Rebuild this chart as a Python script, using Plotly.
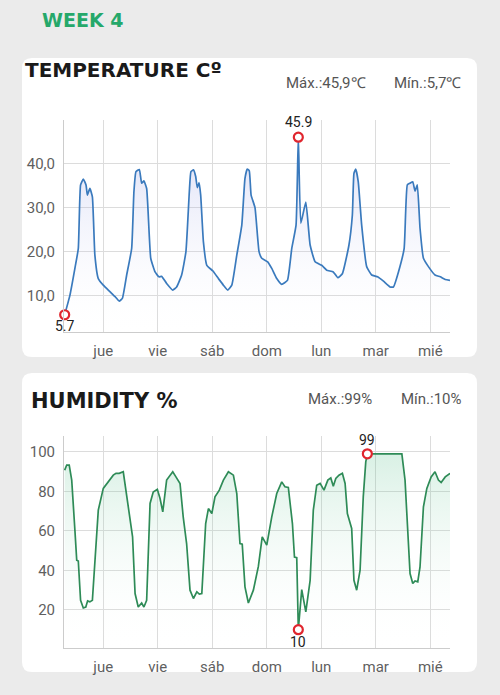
import numpy as np
import pandas as pd
import plotly.graph_objects as go

# ---------------- data ----------------
start_time = pd.Timestamp("2024-05-01 07:00")
day_ticks = ["2024-05-02", "2024-05-03", "2024-05-04", "2024-05-05",
             "2024-05-06", "2024-05-07", "2024-05-08"]
day_labels = ["jue", "vie", "sáb", "dom", "lun", "mar", "mié"]

temp_hours = [0, 2.3, 4.5, 6, 7, 8.2, 9.4, 10, 11.1, 12.2, 13.3, 14.8, 17, 20, 22.2, 24, 25.4,
              27.3, 29.5, 30.5, 31.4, 32.9, 33.9, 34.9, 36.1, 37.9, 39.8, 41.5, 42.7, 44.9, 47.6,
              49.3, 51.5, 53.4, 54.9, 55.6, 56.7, 57.7, 58.4, 59.2, 59.9, 61.1, 62.6, 65.3, 67.7,
              69.9, 71.8, 73.6, 75.8, 78, 79.4, 80.4, 81.3, 82.1, 83.8, 85.6, 86.8, 89.4, 91.2,
              93.4, 95.6, 98.1, 100, 101.9, 102.9, 104, 106.2, 108.1, 110.3, 113.2, 115.4, 118.3,
              120.3, 122.3, 125.2, 126.7, 127.4, 128.2, 129.3, 130.8, 133, 135.2, 137.8, 140.4,
              143.3, 144.8, 147, 149.5, 150.9, 152.1, 153.3, 154.3, 155.3, 156.5, 158, 160.2,
              163.1, 165.4, 167.6, 169.7]
temp_values = [5.7, 10.1, 16.2, 20.7, 35.1, 36.4, 35.1, 32.8, 34.3, 32.4, 19.2, 13.9, 12.4, 10.9,
               9.8, 8.8, 9.4, 14.7, 20.7, 33.6, 38.1, 38.6, 35.5, 36.0, 34.3, 18.5, 15.4, 14.3,
               14.4, 12.8, 11.3, 12.0, 14.7, 20.0, 33.6, 38.1, 38.5, 37.0, 34.5, 35.6, 32.8, 22.2,
               16.9, 15.6, 13.9, 12.4, 11.3, 12.4, 19.2, 26.0, 36.6, 38.7, 38.3, 32.8, 30.0, 20.0,
               18.5, 17.7, 16.2, 13.9, 12.6, 13.5, 20.7, 26.0, 45.9, 26.4, 31.2, 21.5, 17.7, 16.9,
               15.8, 15.4, 14.1, 15.0, 21.5, 28.3, 37.7, 38.7, 35.8, 26.0, 16.6, 14.7, 14.3, 13.3,
               12.0, 12.0, 15.4, 20.7, 35.1, 35.5, 35.8, 33.7, 35.1, 25.3, 18.5, 16.6, 14.7, 14.3,
               13.7, 13.5]

hum_hours = [0, 0.9, 2, 3.1, 4.5, 5.3, 6, 7, 8.2, 9.3, 10.1, 11.1, 12.2, 13.3, 14.8, 17, 19.2,
             21.4, 22.6, 24, 25.8, 28, 29.9, 31, 32.4, 33.9, 34.9, 36.1, 37.6, 39, 40.8, 42, 43.2,
             44.9, 47.6, 49, 50.8, 52.2, 53.7, 55.2, 56.7, 58.2, 59.3, 60.4, 62.1, 63.3, 64.8,
             66.2, 68.1, 69.9, 72.1, 74.3, 75.8, 77.2, 78.2, 79.4, 80.9, 83.1, 85.3, 87, 89, 91.2,
             93.4, 95.6, 97, 98.5, 100.3, 101.2, 102.2, 102.9, 104.4, 106.2, 108.1, 109.5, 111,
             112.5, 114.2, 115.9, 117.2, 118.3, 119.4, 120.8, 122.3, 123.5, 124.5, 126.4, 127.4,
             128.6, 130.1, 131.5, 132.6, 133.3, 148.5, 149.9, 151.1, 152.1, 153.3, 154.3, 155.5,
             156.5, 158, 159.5, 161.4, 163.1, 164.6, 165.8, 167.6, 169.7]
hum_values = [90.7, 93.3, 93.3, 85.7, 60.4, 45.2, 44.8, 24.9, 21.0, 21.5, 24.6, 24.1, 24.9, 46.8,
              70.5, 81.5, 84.8, 88.2, 89.1, 89.1, 89.9, 72.2, 57.0, 28.3, 21.5, 23.5, 21.5, 24.9,
              73.9, 79.7, 81.0, 76.4, 69.6, 85.7, 89.9, 87.3, 84.0, 67.1, 53.6, 30.0, 25.8, 29.1,
              28.0, 28.3, 63.7, 71.3, 68.8, 77.2, 80.6, 85.7, 89.9, 88.2, 78.9, 53.6, 53.3, 31.7,
              23.5, 30.0, 42.0, 57.0, 52.8, 67.1, 78.9, 84.8, 82.3, 82.0, 63.7, 46.8, 46.5, 10.0,
              30.3, 19.0, 35.0, 70.5, 83.1, 84.0, 80.6, 85.7, 86.8, 82.6, 86.5, 88.2, 89.1, 84.0,
              68.8, 61.2, 35.0, 30.0, 40.1, 77.2, 94.9, 99.0, 99.0, 85.7, 57.0, 38.4, 33.4, 34.7,
              34.2, 41.8, 72.2, 81.5, 87.3, 89.9, 85.7, 84.5, 87.3, 89.1]

temp_ticks = [10, 20, 30, 40]
hum_ticks = [20, 40, 60, 80, 100]

# ---------------- helpers ----------------
W, H = 500, 695
def px(x):
    return x / W
def py(y):
    return 1 - y / H

def rrect(x0, y0, x1, y1, r):
    pts = [
        f"M {px(x0 + r)},{py(y0)}",
        f"L {px(x1 - r)},{py(y0)}",
        f"Q {px(x1)},{py(y0)} {px(x1)},{py(y0 + r)}",
        f"L {px(x1)},{py(y1 - r)}",
        f"Q {px(x1)},{py(y1)} {px(x1 - r)},{py(y1)}",
        f"L {px(x0 + r)},{py(y1)}",
        f"Q {px(x0)},{py(y1)} {px(x0)},{py(y1 - r)}",
        f"L {px(x0)},{py(y0 + r)}",
        f"Q {px(x0)},{py(y0)} {px(x0 + r)},{py(y0)}",
        "Z",
    ]
    return " ".join(pts)

def comma(v, d=1):
    return f"{v:.{d}f}".replace(".", ",")

t_x = [start_time + pd.Timedelta(hours=h) for h in temp_hours]
h_x = [start_time + pd.Timedelta(hours=h) for h in hum_hours]
x_range = [start_time - pd.Timedelta(hours=0.3), start_time + pd.Timedelta(hours=169.7)]

tv = np.array(temp_values)
hv = np.array(hum_values)
t_imax, t_imin = int(np.argmax(tv)), int(np.argmin(tv))
h_imax, h_imin = int(np.argmax(hv)), int(np.argmin(hv))

TEMP_LINE = "#3a7abd"
HUM_LINE = "#2e8b57"
RED = "#e0262e"
TICK_FONT = dict(family="Roboto, Noto Sans, sans-serif", size=15, color="#5f5f5f")
HDR_FONT = dict(family="Roboto, sans-serif", size=15, color="#555555")
LBL_FONT = dict(family="Roboto, sans-serif", size=14, color="#222222")

fig = go.Figure()

fig.add_trace(go.Scatter(
    x=t_x, y=temp_values, mode="lines", xaxis="x", yaxis="y",
    line=dict(color=TEMP_LINE, width=1.7, shape="spline", smoothing=0.4),
    fill="tozeroy",
    fillgradient=dict(type="vertical", start=0, stop=46,
                      colorscale=[[0, "rgba(255,255,255,0)"], [1, "rgba(105,115,215,0.24)"]]),
    hoverinfo="skip", showlegend=False,
))
fig.add_trace(go.Scatter(
    x=[t_x[t_imax], t_x[t_imin]], y=[tv[t_imax], tv[t_imin]], mode="markers",
    xaxis="x", yaxis="y",
    marker=dict(size=9, color="white", line=dict(color=RED, width=2.2)),
    hoverinfo="skip", showlegend=False, cliponaxis=False,
))
fig.add_trace(go.Scatter(
    x=h_x, y=hum_values, mode="lines", xaxis="x2", yaxis="y2",
    line=dict(color=HUM_LINE, width=1.7),
    fill="tozeroy",
    fillgradient=dict(type="vertical", start=0, stop=100,
                      colorscale=[[0, "rgba(255,255,255,0)"], [1, "rgba(60,180,120,0.2)"]]),
    hoverinfo="skip", showlegend=False,
))
fig.add_trace(go.Scatter(
    x=[h_x[h_imax], h_x[h_imin]], y=[hv[h_imax], hv[h_imin]], mode="markers",
    xaxis="x2", yaxis="y2",
    marker=dict(size=9, color="white", line=dict(color=RED, width=2.2)),
    hoverinfo="skip", showlegend=False, cliponaxis=False,
))

xcommon = dict(
    type="date", range=x_range, domain=[px(64), px(450)],
    tickvals=day_ticks, ticktext=day_labels,
    showgrid=True, gridcolor="#dcdcdc", gridwidth=1,
    showline=True, linecolor="#cccccc", linewidth=1,
    ticks="", tickfont=TICK_FONT, ticklabelstandoff=5, zeroline=False,
)
ycommon = dict(
    showgrid=True, gridcolor="#dcdcdc", gridwidth=1,
    showline=True, linecolor="#cccccc", linewidth=1,
    ticks="", tickfont=TICK_FONT, ticklabelstandoff=5, zeroline=False,
)

annotations = [
    dict(text="WEEK 4", x=px(40), y=py(20), xref="paper", yref="paper",
         xanchor="left", yanchor="middle", showarrow=False,
         font=dict(family="DejaVu Sans", size=19, color="#25a86a", weight="bold")),
    dict(text="TEMPERATURE Cº", x=px(23), y=py(70), xref="paper", yref="paper",
         xanchor="left", yanchor="middle", showarrow=False,
         font=dict(family="DejaVu Sans", size=20, color="#1a1a1a", weight="bold")),
    dict(text="HUMIDITY %", x=px(29), y=py(401), xref="paper", yref="paper",
         xanchor="left", yanchor="middle", showarrow=False,
         font=dict(family="DejaVu Sans", size=21, color="#1a1a1a", weight="bold")),
    dict(text=f"Máx.:{comma(tv.max())}℃", x=px(368), y=py(83), xref="paper", yref="paper",
         xanchor="right", yanchor="middle", showarrow=False, font=HDR_FONT),
    dict(text=f"Mín.:{comma(tv.min())}℃", x=px(464), y=py(83), xref="paper", yref="paper",
         xanchor="right", yanchor="middle", showarrow=False, font=HDR_FONT),
    dict(text=f"Máx.:{hv.max():.0f}%", x=px(374), y=py(399), xref="paper", yref="paper",
         xanchor="right", yanchor="middle", showarrow=False, font=HDR_FONT),
    dict(text=f"Mín.:{hv.min():.0f}%", x=px(464), y=py(399), xref="paper", yref="paper",
         xanchor="right", yanchor="middle", showarrow=False, font=HDR_FONT),
    dict(text=f"{tv[t_imax]:.1f}", x=t_x[t_imax], y=tv[t_imax], xref="x", yref="y",
         yshift=15, showarrow=False, font=LBL_FONT),
    dict(text=f"{tv[t_imin]:.1f}", x=t_x[t_imin], y=tv[t_imin], xref="x", yref="y",
         yshift=-11, showarrow=False, font=LBL_FONT),
    dict(text=f"{hv[h_imax]:.0f}", x=h_x[h_imax], y=hv[h_imax], xref="x2", yref="y2",
         yshift=14, showarrow=False, font=LBL_FONT),
    dict(text=f"{hv[h_imin]:.0f}", x=h_x[h_imin], y=hv[h_imin], xref="x2", yref="y2",
         yshift=-12, showarrow=False, font=LBL_FONT),
]

shapes = [
    dict(type="path", path=rrect(22, 58, 477, 357, 10), xref="paper", yref="paper",
         fillcolor="white", line=dict(width=0), layer="below"),
    dict(type="path", path=rrect(22, 373, 477, 672, 10), xref="paper", yref="paper",
         fillcolor="white", line=dict(width=0), layer="below"),
]

fig.update_layout(
    width=W, height=H, margin=dict(l=0, r=0, t=0, b=0),
    paper_bgcolor="#ebebeb", plot_bgcolor="rgba(0,0,0,0)",
    xaxis=dict(**xcommon, anchor="y"),
    yaxis=dict(**ycommon, domain=[py(332), py(120)], range=[1.8, 49.8],
               tickvals=temp_ticks, ticktext=[comma(v) for v in temp_ticks], anchor="x"),
    xaxis2=dict(**xcommon, anchor="y2"),
    yaxis2=dict(**ycommon, domain=[py(648.3), py(436)], range=[0.6, 108],
                tickvals=hum_ticks, ticktext=[str(v) for v in hum_ticks], anchor="x2"),
    annotations=annotations, shapes=shapes,
)

fig.write_html("out.html")
